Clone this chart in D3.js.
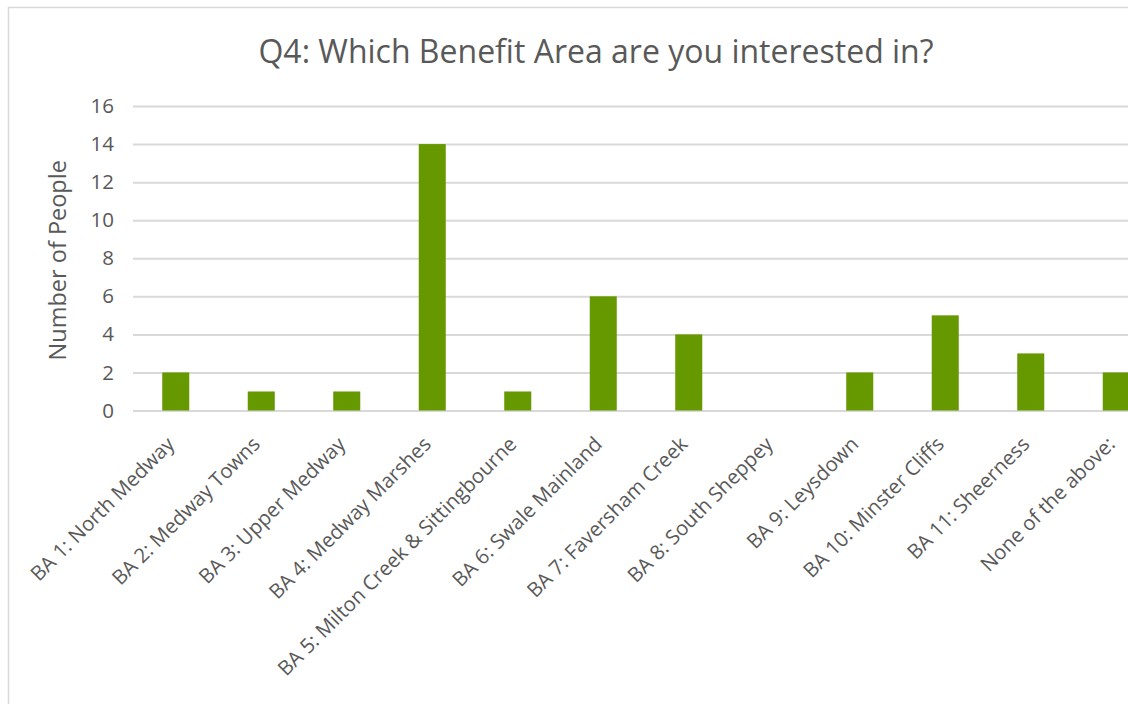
<!DOCTYPE html>
<html>
<head>
<meta charset="utf-8">
<script src="https://cdn.jsdelivr.net/npm/d3@7"></script>
<style>
  html, body { margin: 0; padding: 0; background: #fff; }
  svg { display: block; overflow: hidden; }
  text { font-family: "Open Sans", "Liberation Sans", sans-serif; fill: #595959; }
</style>
</head>
<body>
<svg id="chart" width="1128" height="704"></svg>
<script>
// Survey responses: number of people interested in each Benefit Area
const categories = [
  "BA 1: North Medway",
  "BA 2: Medway Towns",
  "BA 3: Upper Medway",
  "BA 4: Medway Marshes",
  "BA 5: Milton Creek & Sittingbourne",
  "BA 6: Swale Mainland",
  "BA 7: Faversham Creek",
  "BA 8: South Sheppey",
  "BA 9: Leysdown",
  "BA 10: Minster Cliffs",
  "BA 11: Sheerness",
  "None of the above:"
];
const counts = [2, 1, 1, 14, 1, 6, 4, 0, 2, 5, 3, 2];
const yTicks = [0, 2, 4, 6, 8, 10, 12, 14, 16];
const titleText = "Q4: Which Benefit Area are you interested in?";
const yAxisTitle = "Number of People";

const svg = d3.select("#chart");
const W = 1128, H = 704;
const font = '"Open Sans", sans-serif';

// Outer chart frame (extends past the visible page on the right and bottom)
svg.append("rect")
  .attr("x", 8.5).attr("y", 7.5)
  .attr("width", W + 20).attr("height", H + 20)
  .attr("fill", "#fff")
  .attr("stroke", "#d9d9d9")
  .attr("stroke-width", 1.5);

const plot = { left: 133, right: 1159, top: 106, bottom: 410.5 };

const x = d3.scaleBand()
  .domain(categories)
  .range([plot.left, plot.right])
  .paddingInner(0.684)
  .paddingOuter(0.342);

const y = d3.scaleLinear()
  .domain([0, 16])
  .range([plot.bottom, plot.top]);

// Horizontal gridlines and y tick labels
const yAxis = d3.axisLeft(y)
  .tickValues(yTicks)
  .tickSize(-(plot.right - plot.left))
  .tickPadding(19);

const gy = svg.append("g")
  .attr("transform", `translate(${plot.left},0)`)
  .call(yAxis);
gy.select(".domain").remove();
gy.selectAll(".tick line")
  .attr("stroke", "#d9d9d9")
  .attr("stroke-width", 2);
gy.selectAll(".tick text")
  .attr("font-size", 20.5)
  .attr("fill", "#595959")
  .style("font-family", font);

// Bars
svg.append("g")
  .selectAll("rect")
  .data(categories.map((c, i) => ({ c, v: counts[i] })))
  .join("rect")
  .attr("x", d => x(d.c))
  .attr("y", d => y(d.v))
  .attr("width", x.bandwidth())
  .attr("height", d => y(0) - y(d.v))
  .attr("fill", "#669900");

// Category labels, rotated
const gx = svg.append("g")
  .attr("transform", `translate(0,${plot.bottom})`)
  .call(d3.axisBottom(x).tickSize(0).tickPadding(0));
gx.select(".domain").remove();
gx.selectAll(".tick text")
  .attr("font-size", 20.3)
  .attr("fill", "#595959")
  .style("font-family", font)
  .attr("text-anchor", "end")
  .attr("dy", 0)
  .attr("transform", "translate(0,35) rotate(-45)");

// Title
svg.append("text")
  .attr("x", 596)
  .attr("y", 63)
  .attr("text-anchor", "middle")
  .attr("font-size", 32)
  .style("font-family", font)
  .text(titleText);

// Y axis title
svg.append("text")
  .attr("transform", `translate(66,${(plot.top + plot.bottom) / 2 + 2}) rotate(-90)`)
  .attr("text-anchor", "middle")
  .attr("font-size", 23.5)
  .style("font-family", font)
  .text(yAxisTitle);
</script>
</body>
</html>
